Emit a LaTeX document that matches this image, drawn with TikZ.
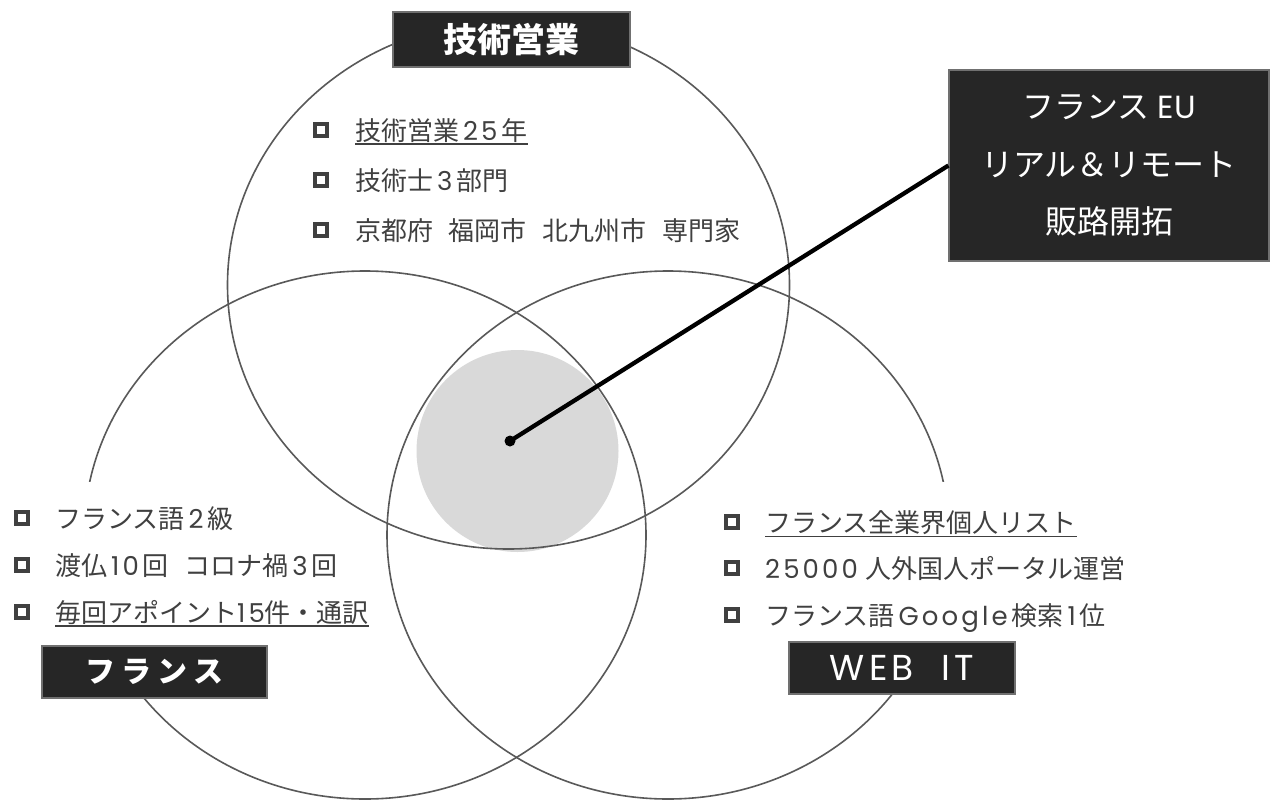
\documentclass[tikz,border=0pt]{standalone}
\usepackage{fontspec}
\setmainfont{Noto Sans CJK JP}
\newfontfamily\lat[LetterSpace=12]{Poppins}
\newfontfamily\latplain{Poppins}
\usetikzlibrary{shapes.geometric}
\definecolor{ringc}{HTML}{595959}
\definecolor{ink}{HTML}{404040}
\definecolor{boxfill}{HTML}{262626}
\definecolor{boxedge}{HTML}{707070}
\definecolor{coregray}{HTML}{D9D9D9}
\newcommand{\wsp}{\hspace{0.6em}}
\newcommand{\asp}{\hspace{0.15em}}
\newcommand{\ltn}[1]{\asp{\lat #1}\asp}
\begin{document}
\begin{tikzpicture}[x=1pt,y=-1pt,
  ring/.style={draw=ringc, line width=1.6pt, ellipse, minimum width=562pt, minimum height=528pt, inner sep=0pt},
  bulletbox/.style={draw=ink, line width=4pt, minimum size=12.5pt, inner sep=0pt},
  item/.style={anchor=base west, inner sep=0pt, text=ink, font=\fontsize{26}{30}\selectfont},
  titlebox/.style={fill=boxfill, draw=boxedge, line width=1.2pt, text=white, inner sep=0pt},
  ulinestyle/.style={draw=ink, line width=1.8pt}
]
\useasboundingbox (0,0) rectangle (1271,803);
\fill[white] (0,0) rectangle (1271,803);

% core
\node[circle, fill=coregray, minimum size=202pt, inner sep=0pt] (core) at (517.5,451) {};

% rings
\node[ring] (ringtop) at (508.5,285) {};
\node[ring] (ringleft) at (365,535) {};
\node[ring] (ringright) at (668,535) {};

% white backgrounds of the lists
\fill[white] (0,482) rectangle (300,646);
\fill[white] (715,482) rectangle (1150,641);

% goal box and connector
\node[titlebox, minimum width=320pt, minimum height=191pt, align=center,
      font=\fontsize{32}{57.5}\selectfont] (goal) at (1109,165.5)
      {フランス{\latplain\ EU}\\リアル＆リモート\\販路開拓};
\node[circle, fill=black, minimum size=11pt, inner sep=0pt] (dot) at (510,441) {};
\draw[line width=4.3pt, black] (dot.center) -- (goal.west);

% title boxes
\node[titlebox, minimum width=237pt, minimum height=55pt, font=\bfseries\fontsize{34}{40}\selectfont]
  (ttop) at (511.5,39.5) {技術営業};
\node[titlebox, minimum width=225pt, minimum height=52pt, font=\bfseries\fontsize{30}{36}\selectfont\addfontfeature{LetterSpace=20}]
  (tleft) at (154.5,672) {フランス};
\node[titlebox, minimum width=226pt, minimum height=52pt, font=\lat\fontsize{36}{44}\selectfont]
  (tright) at (902,668) {WEB~~IT};

% top list
\node[bulletbox] (b1) at (321,130) {};
\node[item] (i1) at (355,140) {技術営業\ltn{25}年};
\node[bulletbox] (b2) at (321,180) {};
\node[item] (i2) at (355,190) {技術士\ltn{3}部門};
\node[bulletbox] (b3) at (321,230) {};
\node[item] (i3) at (355,240) {京都府\wsp 福岡市\wsp 北九州市\wsp 専門家};
\draw[ulinestyle] ([yshift=-2pt]i1.south west) -- ([yshift=-2pt]i1.south east);

% left list
\node[bulletbox] (b4) at (22,518) {};
\node[item] (i4) at (55,528) {フランス語\ltn{2}級};
\node[bulletbox] (b5) at (22,565) {};
\node[item] (i5) at (55,575) {渡仏\ltn{10}回\wsp コロナ禍\ltn{3}回};
\node[bulletbox] (b6) at (22,612) {};
\node[item] (i6) at (55,622) {毎回アポイント{\lat 15}件・通訳};
\draw[ulinestyle] ([yshift=-2pt]i6.south west) -- ([yshift=-2pt]i6.south east);

% right list
\node[bulletbox] (b7) at (732,522) {};
\node[item] (i7) at (765,532) {フランス全業界個人リスト};
\node[bulletbox] (b8) at (732,568) {};
\node[item] (i8) at (765,578) {{\lat 25000}\hspace{0.3em}人外国人ポータル運営};
\node[bulletbox] (b9) at (732,615) {};
\node[item] (i9) at (765,625) {フランス語\ltn{Google}検索\ltn{1}位};
\draw[ulinestyle] ([yshift=-2pt]i7.south west) -- ([yshift=-2pt]i7.south east);
\end{tikzpicture}
\end{document}
